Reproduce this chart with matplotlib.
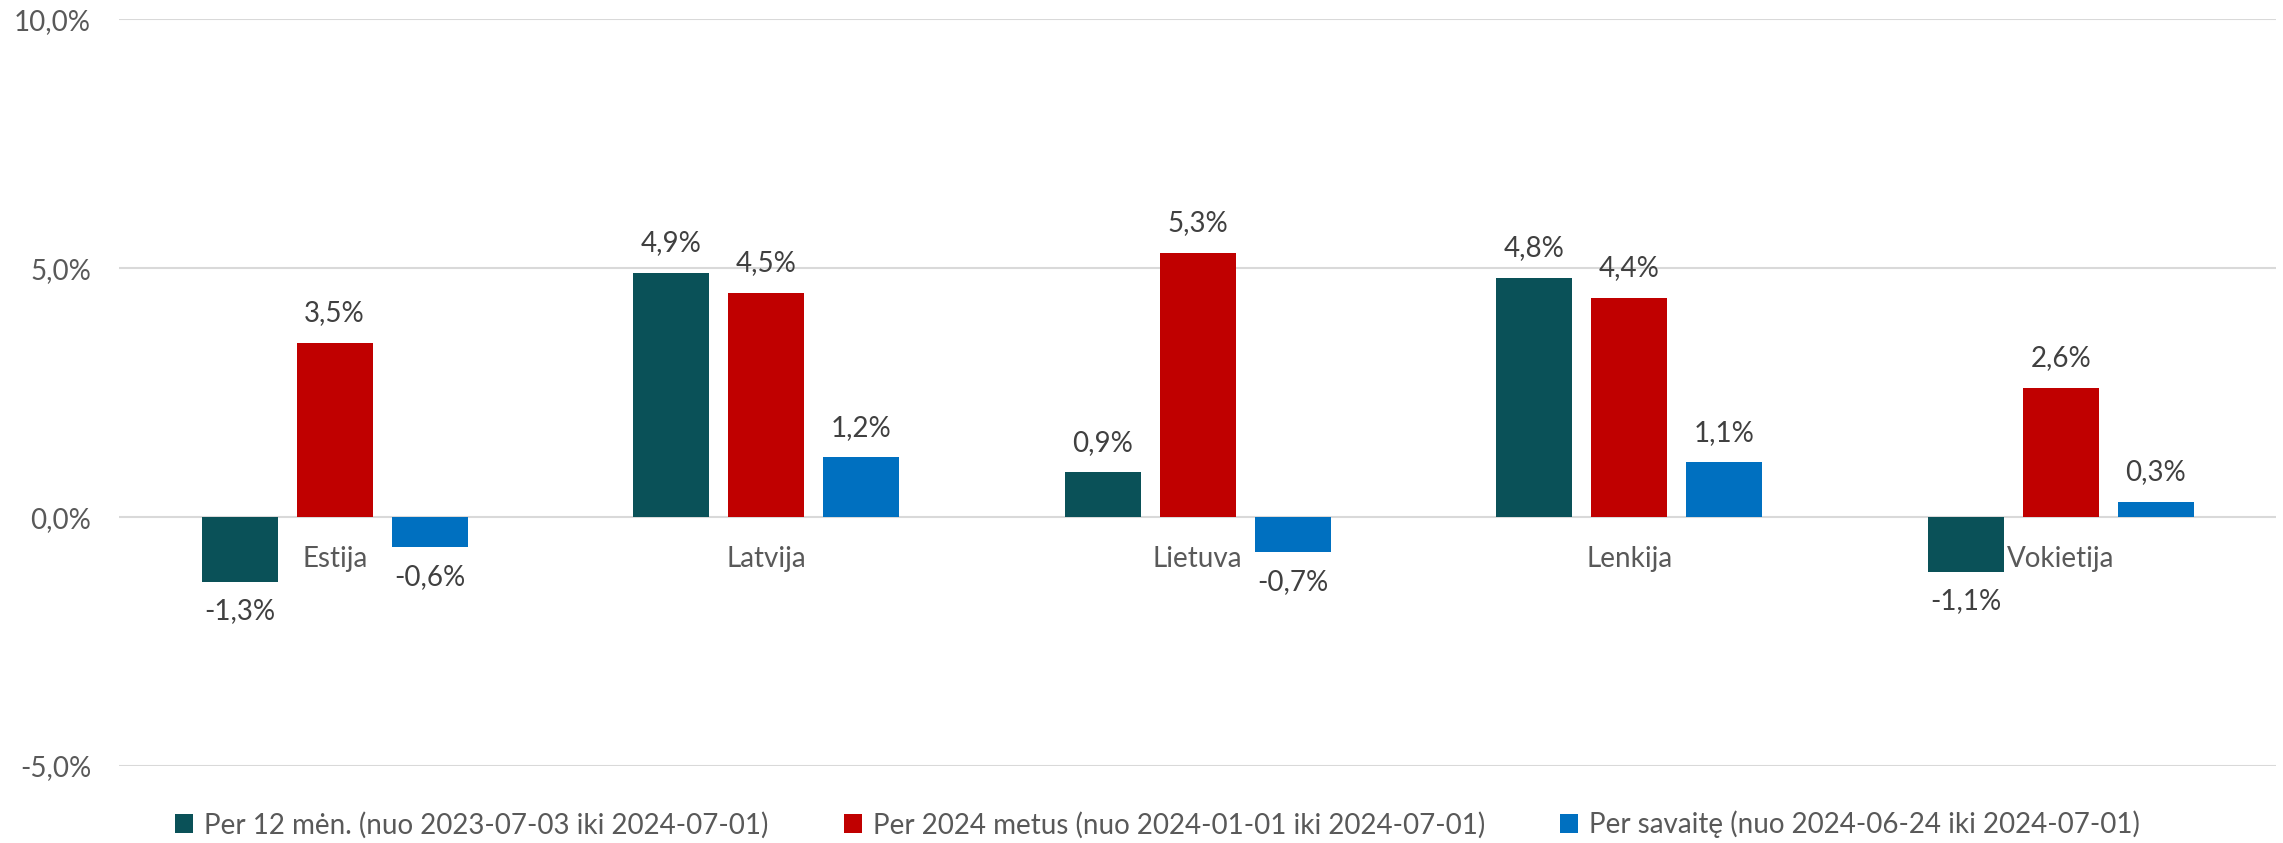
import numpy as np
import matplotlib.pyplot as plt

plt.rcParams['font.family'] = ['Lato', 'DejaVu Sans']

# data
countries = ['Estija', 'Latvija', 'Lietuva', 'Lenkija', 'Vokietija']
per_12m = [-1.3, 4.9, 0.9, 4.8, -1.1]
per_2024 = [3.5, 4.5, 5.3, 4.4, 2.6]
per_week = [-0.6, 1.2, -0.7, 1.1, 0.3]
series_labels = ['Per 12 mėn. (nuo 2023-07-03 iki 2024-07-01)',
                 'Per 2024 metus (nuo 2024-01-01 iki 2024-07-01)',
                 'Per savaitę (nuo 2024-06-24 iki 2024-07-01)']
colors = ['#0A5158', '#C00000', '#0070C0']

fig = plt.figure(figsize=(22.83, 8.43), dpi=100)
ax = fig.add_axes([0.0521, 0.0913, 0.945, 0.886])

x = np.arange(len(countries))
w = 0.176
step = 0.22
for i, (vals, c, lab) in enumerate(zip([per_12m, per_2024, per_week], colors, series_labels)):
    bars = ax.bar(x + (i - 1) * step, vals, width=w, color=c, label=lab, zorder=3)
    for b, v in zip(bars, vals):
        txt = ('%.1f%%' % v).replace('.', ',')
        off = 12 if v >= 0 else -12
        ax.annotate(txt, (b.get_x() + b.get_width() / 2, v), xytext=(0, off),
                    textcoords='offset points', ha='center',
                    va='bottom' if v >= 0 else 'top', fontsize=20, color='#404040')

ax.set_xlim(-0.5, len(countries) - 0.5)
ax.set_ylim(-5, 10)
ax.set_yticks([-5, 0, 5, 10])
ax.set_yticklabels(['-5,0%', '0,0%', '5,0%', '10,0%'])
ax.yaxis.grid(True, color='#D9D9D9', linewidth=1.5, zorder=0)
ax.tick_params(axis='y', length=0, pad=20, labelsize=20, labelcolor='#595959')

ax.set_xticks(x)
ax.set_xticklabels(countries)
ax.tick_params(axis='x', length=0, pad=21, labelsize=20, labelcolor='#595959')
ax.spines['bottom'].set_position(('data', 0))
for s in ['top', 'right', 'left', 'bottom']:
    ax.spines[s].set_visible(False)
for lbl in ax.get_xticklabels():
    lbl.set_zorder(4)

fig.legend(*ax.get_legend_handles_labels(), loc='center', bbox_to_anchor=(0.507, 0.022),
           ncol=3, frameon=False, fontsize=20, labelcolor='#595959',
           handlelength=0.65, handleheight=0.65, handletextpad=0.4, columnspacing=2.7,
           borderpad=0.1)

fig.savefig('out.png', dpi=100)
